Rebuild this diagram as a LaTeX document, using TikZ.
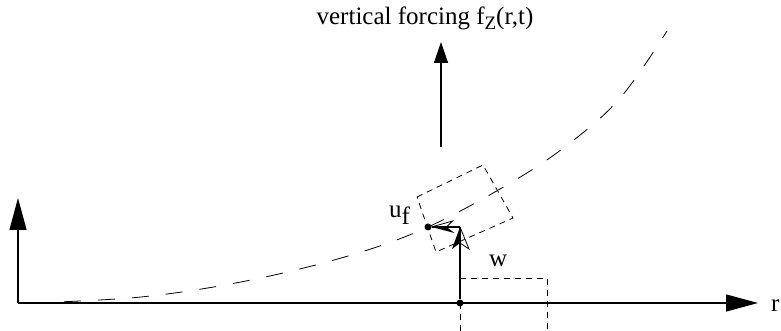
\documentclass[tikz,border=0pt]{standalone}
\usepackage{fontspec}
\setmainfont{Liberation Serif}
\usetikzlibrary{arrows.meta}
\begin{document}
\begin{tikzpicture}[x=1pt,y=1pt,
  axis/.style={line width=1.3pt,-{Triangle[length=32pt,width=17pt]}},
  force/.style={line width=1.3pt,-{Triangle[length=21pt,width=14pt]}},
  vec/.style={line width=1.3pt},
  curve/.style={line width=0.8pt,dash pattern=on 17pt off 17pt},
  box/.style={line width=0.8pt,dash pattern=on 6pt off 5pt},
  lbl/.style={font=\fontsize{25}{25}\selectfont,inner sep=0pt},
  pt/.style={circle,fill=black,inner sep=0pt,minimum size=7pt}]
\useasboundingbox (0,0) rectangle (781,331);
% axes
\coordinate (O) at (18,28);
\coordinate (Xend) at (758,28);
\coordinate (Yend) at (18,133);
\draw[axis] (O) -- (Xend);
\draw[axis] (O) -- (Yend);
\node[lbl,anchor=base west] (r) at (771,19) {r};
% dashed boxes
\draw[box] (460,53) -- (547,53) -- (547,-5);
\draw[box] (460,28) -- (460,-5);
\draw[box] (417,134) -- (483,166) -- (513,113) -- (436,79) -- cycle;
% curve
\draw[curve] plot[smooth,tension=0.6] coordinates {(30,28) (141,34) (246,50) (348,75) (428,104) (512,149) (570,188) (621,234) (667,300)};
% forcing
\coordinate (F0) at (441,184);
\coordinate (F1) at (441,289);
\draw[force] (F0) -- (F1);
\node[lbl,anchor=base] (ftext) at (425,306) {vertical forcing f\raisebox{-5pt}{\fontsize{19}{19}\selectfont Z}(r,t)};
% points and vectors
\node[pt] (B) at (460,28) {};
\coordinate (C) at (460,104);
\node[pt] (U) at (428,104) {};
\draw[vec] (B) -- (C);
\draw[vec] (C) -- (U);
% half arrowhead on w
\fill (C) -- ++(-8,-22) -- ++(8,6) -- cycle;
\draw[line width=0.8pt,line join=miter] (C) -- ++(9,-22) -- ++(-9,6);
% half arrowhead on u_f
\coordinate (Ut) at (431.5,104);
\fill (Ut) -- ++(23,-6) -- ++(-8,6) -- cycle;
\draw[line width=0.8pt,line join=miter] (Ut) -- ++(21,6) -- ++(-6,-6);
% labels
\node[lbl,anchor=base west] (ulab) at (389,113) {u\raisebox{-7pt}{f}};
\node[lbl,anchor=base west] (wlab) at (489,64) {w};
\end{tikzpicture}
\end{document}
